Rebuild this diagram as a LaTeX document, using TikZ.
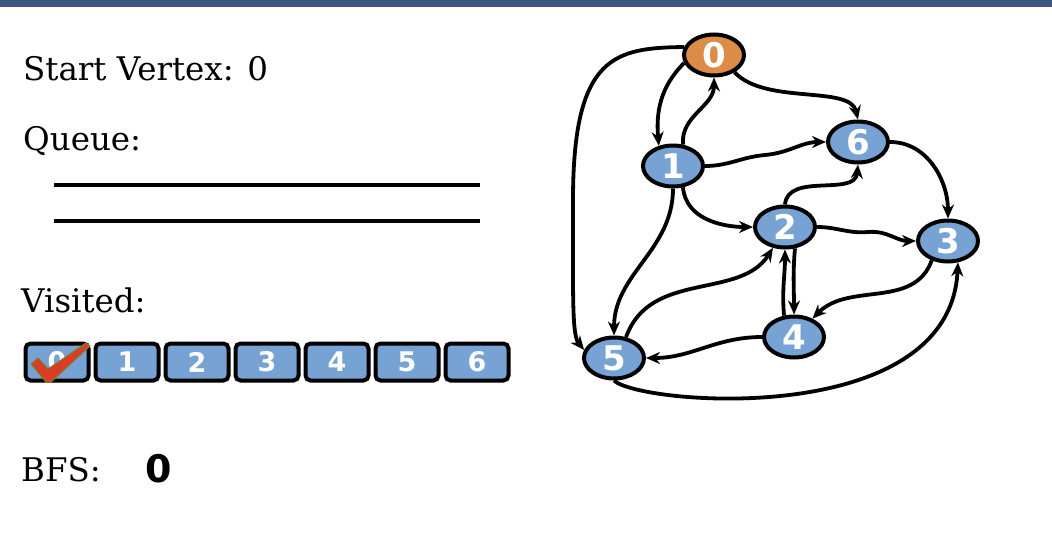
\documentclass[tikz,border=0pt]{standalone}
\usepackage{fontspec}
\usetikzlibrary{shapes.geometric,arrows.meta,positioning}
\setmainfont{DejaVu Serif}
\newfontfamily\numfont{DejaVu Sans}
\definecolor{nodeblue}{RGB}{118,162,212}
\definecolor{startorange}{RGB}{220,140,72}
\definecolor{barblue}{RGB}{58,90,133}
\definecolor{tickred}{RGB}{220,60,36}
\definecolor{tickedge}{RGB}{120,130,50}
\tikzstyle{vertex} = [draw,line width=4pt,ellipse,inner sep=0,minimum width=60pt,minimum height=41pt,fill=nodeblue,text=white,font=\numfont\bfseries\fontsize{34}{34}\selectfont]
\tikzstyle{start} = [vertex,fill=startorange]
\tikzstyle{edge} = [-{Stealth[length=14pt,width=12pt]},line width=3.8pt]
\tikzstyle{cell} = [draw,line width=4pt,rectangle,rounded corners=5pt,inner sep=0,minimum width=63pt,minimum height=37pt,fill=nodeblue,text=white,font=\numfont\bfseries\fontsize{27}{27}\selectfont]
\tikzstyle{caption} = [anchor=base west,inner sep=0,font=\fontsize{32.5}{38}\selectfont]

\begin{document}
\begin{tikzpicture}[x=1pt,y=-1pt]
  \useasboundingbox (0,0) rectangle (1052,538);
  \fill[barblue] (0,0) rectangle (1052,7);
  % left panel
  \node[caption] (sv) at (23,80) {Start Vertex: 0};
  \node[caption] (qu) at (23,150) {Queue:};
  \draw[line width=4pt] (54,185) -- (480,185);
  \draw[line width=4pt] (54,221) -- (480,221);
  \node[caption] (vi) at (21,312) {Visited:};
  \foreach \i in {0,...,6}
    \node[cell] (c\i) at (57+70*\i,362) {\i};
  \fill[tickred,draw=tickedge,line width=1pt] (31,364) -- (38,358) -- (48,369) -- (86,343) -- (90,346) -- (51,382) -- (46,382) -- cycle;
  \node[caption] (bfs) at (21,481) {BFS:};
  \node[anchor=base west,inner sep=0,font=\numfont\bfseries\fontsize{38}{38}\selectfont] (out) at (145,482) {0};
  % graph
  \node[start] (v0) at (714,55) {0};
  \node[vertex] (v1) at (673,166) {1};
  \node[vertex] (v6) at (858,142) {6};
  \node[vertex] (v2) at (785,227) {2};
  \node[vertex] (v3) at (948,241) {3};
  \node[vertex] (v4) at (794,337) {4};
  \node[vertex] (v5) at (614,358) {5};
  \draw[edge] (v0.165) .. controls (615,48) and (573,55) .. (573,200) .. controls (573,300) and (572,335) .. (v5.165);
  \draw[edge] (v0.195) to[out=225,in=95] (v1.125);
  \draw[edge] (v1.65) to[out=95,in=-90] (v0.south);
  \draw[edge] (v0.-40) .. controls (765,105) and (850,85) .. (v6.north);
  \draw[edge] (v1.east) to[out=0,in=185] (765,155) to[out=5,in=180] (v6.west);
  \draw[edge] (v2.north) to[out=85,in=-95] (v6.south);
  \draw[edge] (v1.-65) to[out=-85,in=180] (v2.west);
  \draw[edge] (v1.south) to[out=-90,in=90] (v5.north);
  \draw[edge] (v6.east) to[out=0,in=90] (v3.north);
  \draw[edge] (v2.east) to[out=0,in=185] (868,232) to[out=5,in=180] (v3.west);
  \draw[edge] (v2.-65) to[out=-95,in=90] (v4.north);
  \draw[edge] (v4.115) to[out=95,in=-90] (v2.south);
  \draw[edge] (v3.-130) to[out=-110,in=45] (v4.45);
  \draw[edge] (v5.60) .. controls (650,270) and (740,300) .. (v2.-120);
  \draw[edge] (v4.west) to[out=180,in=0] (v5.east);
  \draw[edge] (v5.south) .. controls (640,405) and (950,430) .. (v3.-65);
\end{tikzpicture}
\end{document}
